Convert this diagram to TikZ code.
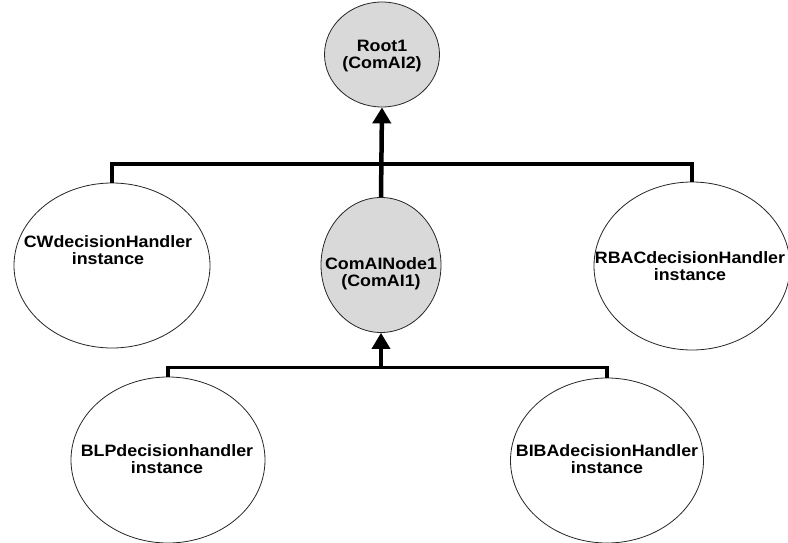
\documentclass[tikz,border=0pt]{standalone}
\usepackage{fontspec}
\newfontfamily\lblfont{Liberation Sans}[FakeStretch=1.08]
\usetikzlibrary{shapes.geometric,arrows.meta}
\begin{document}
\begin{tikzpicture}[x=1pt,y=-1pt,
  hnode/.style={ellipse,draw=black!85,line width=0.8pt,fill=white,inner sep=0pt},
  gnode/.style={hnode,fill=gray!30},
  txt/.style={font=\lblfont\bfseries\fontsize{16.5}{17}\selectfont,align=center,inner sep=0pt},
  bar/.style={line width=3.5pt},
  uparrow/.style={line width=4.5pt,-{Triangle[width=18pt,length=16pt]}},
  uparrowb/.style={line width=3.5pt,-{Triangle[width=18pt,length=16pt]}}
]
\useasboundingbox (0,0) rectangle (788,543);
% nodes
\node[gnode,minimum width=115pt,minimum height=105pt] (root) at (382,54.5) {};
\node[txt] (roott) at (382,56) {Root1\\(ComAI2)};
\node[gnode,minimum width=120pt,minimum height=135pt] (c1) at (381,265) {};
\node[txt] (c1t) at (381,274) {ComAINode1\\(ComAI1)};
\node[hnode,minimum width=196pt,minimum height=165pt] (cw) at (112,265.5) {};
\node[txt] (cwt) at (108,250) {CWdecisionHandler\\instance};
\node[hnode,minimum width=196pt,minimum height=168pt] (rbac) at (692,266) {};
\node[txt] (rbact) at (690,266) {RBACdecisionHandler\\instance};
\node[hnode,minimum width=194pt,minimum height=166pt] (blp) at (168,460) {};
\node[txt] (blpt) at (167,459) {BLPdecisionhandler\\instance};
\node[hnode,minimum width=193pt,minimum height=165pt] (biba) at (607,460.5) {};
\node[txt] (bibat) at (607,459) {BIBAdecisionHandler\\instance};
% junctions
\coordinate (j1) at (381,164);
\coordinate (j2) at (381,367.5);
% connectors
\draw[bar] (cw.north) |- (j1);
\draw[bar] (rbac.north) |- (j1);
\draw[uparrow] (c1.north) -- (root.south);
\draw[bar] (blp.north) |- (j2);
\draw[bar] (biba.north) |- (j2);
\draw[uparrowb] (j2) -- (c1.south);
\end{tikzpicture}
\end{document}
